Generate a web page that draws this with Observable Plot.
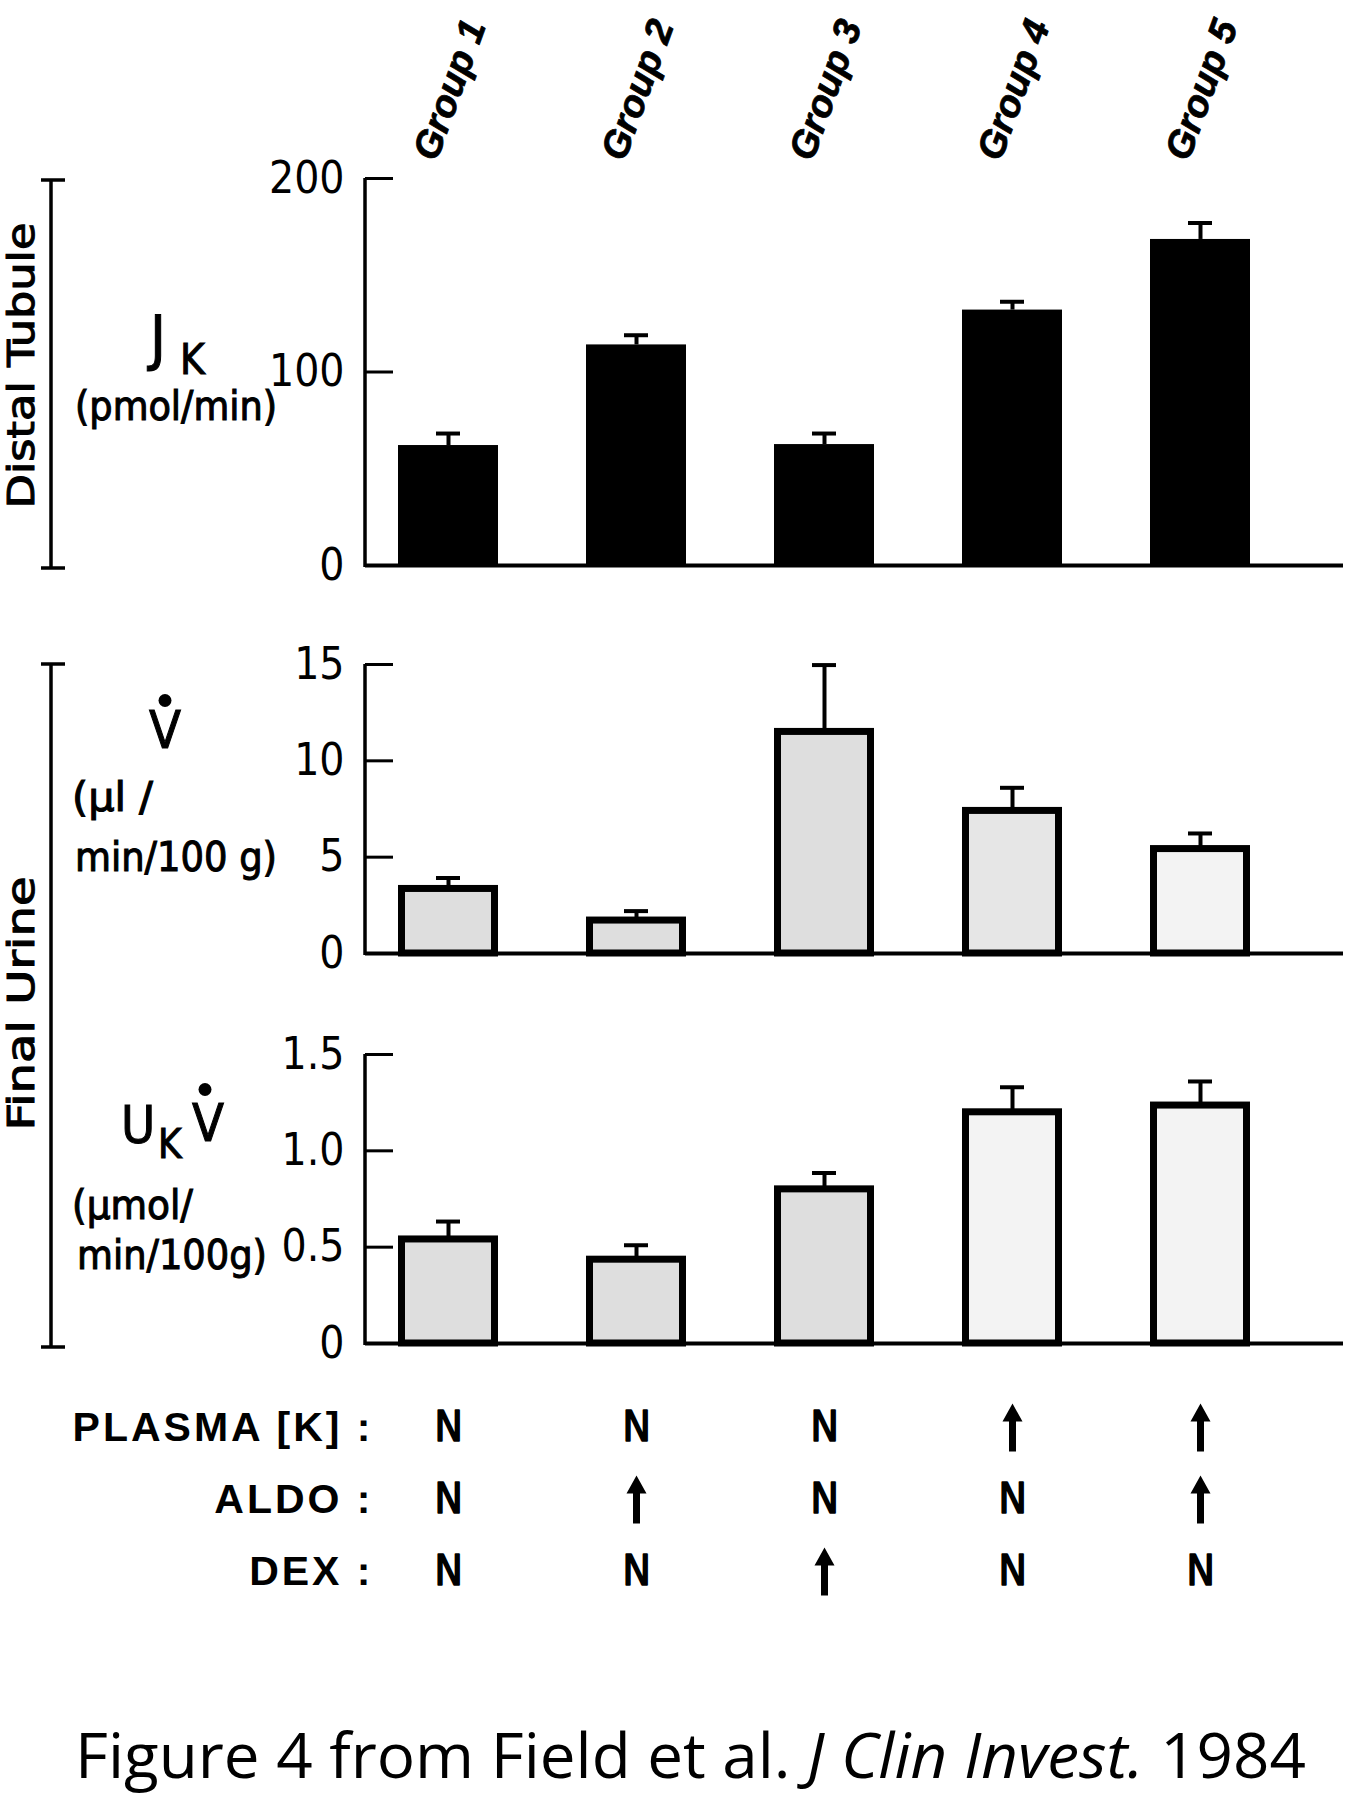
<!DOCTYPE html>
<html><head><meta charset="utf-8">
<script src="https://cdn.jsdelivr.net/npm/d3@7"></script>
<script src="https://cdn.jsdelivr.net/npm/@observablehq/plot@0.6"></script>
<style>
html,body{margin:0;padding:0;background:#fff;}
#page{position:relative;width:1347px;height:1800px;overflow:hidden;background:#fff;}
.layer{position:absolute;left:0;}
</style></head>
<body><div id="page"></div>
<script>
// ---- data ----
const groups = ["Group 1", "Group 2", "Group 3", "Group 4", "Group 5"];
const jkMean = [62, 114, 62.5, 132, 168.5];
const jkSem = [6.2, 5, 5.7, 4.3, 8.5];
const vMean = [3.35, 1.71, 11.5, 7.4, 5.42];
const vSem = [0.57, 0.49, 3.47, 1.2, 0.81];
const ukvMean = [0.54, 0.435, 0.80, 1.20, 1.235];
const ukvSem = [0.093, 0.075, 0.085, 0.13, 0.125];
const jkTicks = [0, 100, 200];
const vTicks = [0, 5, 10, 15];
const ukvTicks = [0, 0.5, 1.0, 1.5];
const conditionRows = ["PLASMA [K]", "ALDO", "DEX"];
const plasmaK = ["N", "N", "N", "up", "up"];
const aldo = ["N", "up", "N", "N", "up"];
const dex = ["N", "N", "up", "N", "N"];
const sectionTitles = ["Distal Tubule", "Final Urine"];
const captionParts = ["Figure 4 from Field et al. ", "J Clin Invest.", " 1984"];

// ---- layout ----
const W = 1347, ML = 365, MR = 4;
const FW = W - ML - MR;
const NARROW = "'Liberation Sans Narrow', 'DejaVu Sans Condensed', 'Liberation Sans', sans-serif";
const ARIAL = "'Liberation Sans', Arial, sans-serif";
const xOpts = {type: "band", domain: groups, paddingInner: 0.47, paddingOuter: 0.3225, align: 0.26, axis: null};
const page = document.getElementById("page");

const rows = (m, s) => groups.map((g, i) => ({group: g, mean: m[i], sem: s[i], i}));

function panel({data, ticks, domain, height, mt, mb, dark, fmt, shade, extra = []}) {
  const p = Plot.plot({
    width: W, height, marginLeft: ML, marginRight: MR, marginTop: mt, marginBottom: mb,
    style: {fontFamily: NARROW, fontSize: "44px", color: "#000", background: "none", overflow: "visible"},
    x: xOpts,
    y: {domain, axis: null},
    marks: [
      Plot.ruleX(data, {x: "group", y1: "mean", y2: d => d.mean + d.sem, strokeWidth: 4, stroke: "#000"}),
      Plot.tickY(data, {x: "group", y: d => d.mean + d.sem, strokeWidth: 4, inset: 38, stroke: "#000"}),
      dark
        ? Plot.barY(data, {x: "group", y: "mean", fill: "#000"})
        : Plot.barY(data, {x: "group", y: "mean", fill: d => shade(d.i), stroke: "#000", strokeWidth: 7, insetLeft: 3.5, insetRight: 3.5}),
      Plot.ruleY([0], {strokeWidth: 4, stroke: "#000"}),
      Plot.tickY(ticks, {y: d => d, strokeWidth: 3, insetRight: FW - 28, stroke: "#000"}),
      Plot.axisY({ticks, tickSize: 0, tickPadding: 21, tickFormat: fmt, fontSize: 44, label: null,
        fill: "#000", stroke: "#000", strokeWidth: 0.8}),
      ...extra
    ]
  });
  // vertical axis line along the left edge of the frame, from the y scale's extent
  const xr = p.scale("x").range, yr = p.scale("y").range;
  d3.select(p).append("line").attr("x1", xr[0]).attr("x2", xr[0]).attr("y1", yr[0] + 2).attr("y2", yr[1])
    .attr("stroke", "#000").attr("stroke-width", 3.5);
  return p;
}

const p1 = panel({
  data: rows(jkMean, jkSem), ticks: jkTicks, domain: [0, 200], height: 600, mt: 178, mb: 35, dark: true,
  fmt: d => String(d),
  extra: [Plot.text(groups, {x: d => d, text: d => d, frameAnchor: "top", dy: -16, dx: -12, rotate: -70,
    textAnchor: "start", lineAnchor: "bottom", fontWeight: "bold", fontStyle: "italic", fontSize: 38,
    fontFamily: ARIAL, fill: "#000", stroke: "#000", strokeWidth: 0.8})]
});
const p2 = panel({
  data: rows(vMean, vSem), ticks: vTicks, domain: [0, 15], height: 385, mt: 64, mb: 32, dark: false,
  fmt: d => String(d), shade: i => i < 3 ? "#dedede" : (i === 3 ? "#e6e6e6" : "#f3f3f3")
});
const p3 = panel({
  data: rows(ukvMean, ukvSem), ticks: ukvTicks, domain: [0, 1.5], height: 395, mt: 69, mb: 37, dark: false,
  fmt: d => d === 0 ? "0" : d.toFixed(1), shade: i => i < 3 ? "#dedede" : "#f3f3f3"
});

const arrowShape = {
  draw(context, l) {
    const w = 3.5, hw = 10, hh = 18;
    context.moveTo(-w, 0);
    context.lineTo(-w, -l + hh);
    context.lineTo(-hw, -l + hh);
    context.lineTo(0, -l);
    context.lineTo(hw, -l + hh);
    context.lineTo(w, -l + hh);
    context.lineTo(w, 0);
    context.closePath();
  }
};
const condValues = [plasmaK, aldo, dex];
const condData = conditionRows.flatMap((r, ri) => groups.map((g, gi) => ({row: r, group: g, v: condValues[ri][gi]})));
const p4 = Plot.plot({
  width: W, height: 230, marginLeft: ML, marginRight: MR, marginTop: 11, marginBottom: 3,
  style: {fontFamily: NARROW, fontSize: "40px", color: "#000", background: "none", overflow: "visible"},
  x: xOpts,
  y: {type: "band", domain: conditionRows, axis: null, padding: 0},
  marks: [
    Plot.axisY({tickSize: 0, tickPadding: -8, tickFormat: d => d + " :", fontWeight: "bold", fontSize: 41,
      fontFamily: ARIAL, label: null}),
    Plot.text(condData.filter(d => d.v === "N"), {x: "group", y: "row", text: "v", fontSize: 42,
      fill: "#000", stroke: "#000", strokeWidth: 1.6}),
    Plot.vector(condData.filter(d => d.v === "up"), {x: "group", y: "row", length: 48, anchor: "middle",
      shape: arrowShape, fill: "#000", stroke: "none"})
  ]
});
d3.select(p4).selectAll("[aria-label='y-axis tick label'] text").attr("letter-spacing", 3);

const tops = [0, 600, 985, 1380];
[p1, p2, p3, p4].forEach((p, k) => {
  const d = document.createElement("div");
  d.className = "layer";
  d.style.top = tops[k] + "px";
  d.appendChild(p);
  page.appendChild(d);
});

// ---- annotations (brackets, section titles, y labels) ----
const ys = (p, k, v) => p.scale("y").apply(v) + tops[k];
const f1 = [ys(p1, 0, 200), ys(p1, 0, 0)];
const f2 = [ys(p2, 1, 15), ys(p2, 1, 0)];
const f3 = [ys(p3, 2, 1.5), ys(p3, 2, 0)];
const c1 = (f1[0] + f1[1]) / 2, c2 = (f2[0] + f2[1]) / 2, c3 = (f3[0] + f3[1]) / 2;

const svg = d3.select(page).append("svg").attr("class", "layer").style("top", "0px")
  .attr("width", W).attr("height", 1800).style("pointer-events", "none")
  .attr("font-family", NARROW).attr("fill", "#000");

function bracket(y0, y1) {
  const g = svg.append("g").attr("stroke", "#000").attr("stroke-width", 3.5);
  g.append("line").attr("x1", 51).attr("x2", 51).attr("y1", y0).attr("y2", y1);
  g.append("line").attr("x1", 41).attr("x2", 65).attr("y1", y0).attr("y2", y0);
  g.append("line").attr("x1", 41).attr("x2", 65).attr("y1", y1).attr("y2", y1);
}
bracket(f1[0] + 2, f1[1] + 3);
bracket(f2[0], f3[1] + 4);

const labels = svg.append("g").attr("stroke", "#000").attr("stroke-width", 1);
function vtitle(t, cy, len) {
  labels.append("text").attr("transform", `translate(34,${cy}) rotate(-90)`).attr("text-anchor", "middle")
    .attr("font-size", 38).attr("textLength", len).attr("lengthAdjust", "spacingAndGlyphs").text(t);
}
vtitle(sectionTitles[0], c1 - 6, 286);
vtitle(sectionTitles[1], (f2[0] + f3[1]) / 2, 254);

function txt(t, x, y, size, len) {
  const e = labels.append("text").attr("x", x).attr("y", y).attr("font-size", size).text(t);
  if (len) e.attr("textLength", len).attr("lengthAdjust", "spacingAndGlyphs");
  return e;
}
// J_K (pmol/min)
txt("J", 150, c1 - 14, 60);
txt("K", 180, c1 + 2, 42);
txt("(pmol/min)", 75, c1 + 48, 40, 202);
// V-dot (µl / min/100 g)
txt("V", 149, c2 - 61, 52);
svg.append("circle").attr("cx", 165).attr("cy", c2 - 108).attr("r", 6.5);
txt("(µl /", 72, c2 + 2, 40, 81);
txt("min/100 g)", 75, c2 + 62, 40, 202);
// U_K V-dot (µmol/ min/100g)
txt("U", 121, c3 - 56, 52);
txt("K", 158, c3 - 41, 40);
txt("V", 192, c3 - 58, 52);
svg.append("circle").attr("cx", 205).attr("cy", c3 - 109).attr("r", 6.5);
txt("(µmol/", 72, c3 + 20, 40, 121);
txt("min/100g)", 77, c3 + 70, 40, 190);

// ---- caption ----
const cap = d3.select(page).append("svg").attr("class", "layer").style("top", "1610px")
  .attr("width", W).attr("height", 190);
const ct = cap.append("text").attr("x", 75).attr("y", 168).attr("font-family", "'Open Sans', 'Noto Sans', sans-serif")
  .attr("font-size", 62).attr("fill", "#000").attr("textLength", 1231).attr("lengthAdjust", "spacingAndGlyphs");
ct.append("tspan").text(captionParts[0]);
ct.append("tspan").attr("font-style", "italic").text(captionParts[1]);
ct.append("tspan").text(captionParts[2]);
</script>
</body></html>
